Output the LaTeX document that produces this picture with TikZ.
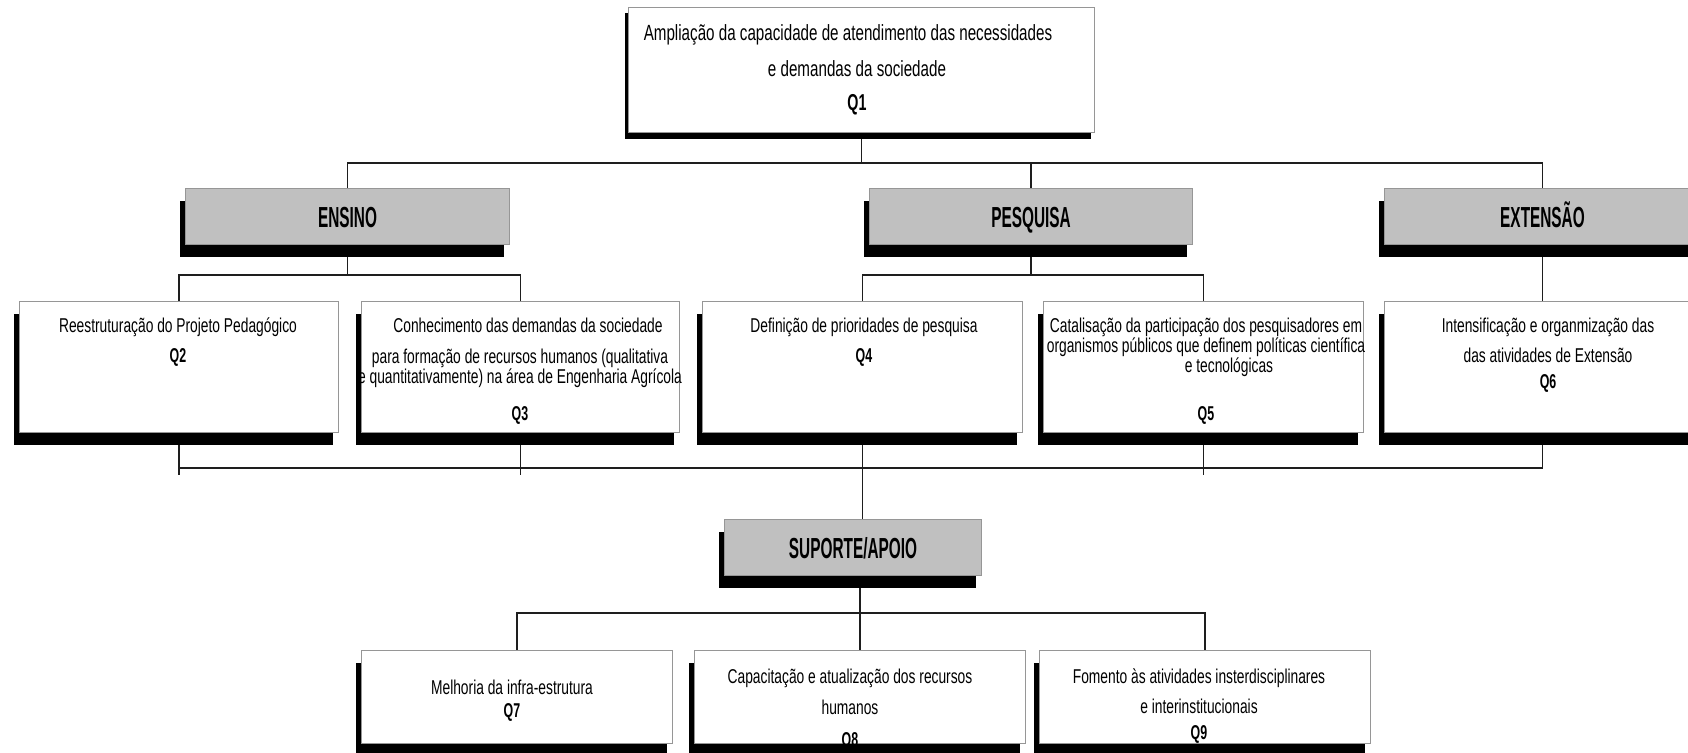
\documentclass[tikz,border=0pt]{standalone}
\usepackage{fontspec}
\setmainfont{Liberation Sans}
\newfontfamily\planfont[FakeStretch=0.69]{Liberation Sans}
\newfontfamily\planTagFont[FakeStretch=0.62]{Liberation Sans}
\newfontfamily\planHeadFont[FakeStretch=0.53]{Liberation Sans}
\usetikzlibrary{shadows,backgrounds}

\definecolor{planBorder}{RGB}{150,150,150}
\definecolor{planHead}{RGB}{192,192,192}
\definecolor{planLink}{RGB}{30,30,30}

\newcommand{\qtag}[1]{{\planTagFont\bfseries\fontsize{20}{20}\selectfont #1}}
\newcommand{\planTight}{\lineskiplimit=-30pt\relax}

\begin{document}
\begin{tikzpicture}[x=1pt,y=-1pt,
      card/.style={draw=planBorder, fill=white, line width=1pt,
        inner sep=0pt, anchor=north west},
      deep/.style={drop shadow={shadow xshift=-6pt, shadow yshift=-12pt,
        fill=black, opacity=1}},
      shallow/.style={drop shadow={shadow xshift=-4pt, shadow yshift=-6pt,
        fill=black, opacity=1}},
      pillar/.style={card, deep, fill=planHead, minimum height=56pt,
        font={\planHeadFont\bfseries\fontsize{29}{33}\selectfont},
        text height=21pt, text depth=0pt},
      goal/.style={card, deep, minimum height=131pt},
      goalLow/.style={card, deep, minimum height=93pt},
      say/.style={font={\planfont\fontsize{20}{20}\selectfont\planTight},
        align=center, inner sep=0pt, anchor=base},
      link/.style={draw=planLink, line width=1.2pt}]
      \useasboundingbox (0,0) rectangle (1688,752);

      \node[card, shallow, minimum width=466pt, minimum height=125pt] (q1) at (628,7) {};
      \node[say, font={\planfont\fontsize{22}{20}\selectfont\planTight}]
        (q1txt) at (857,110)
        {Ampliação da capacidade de atendimento das necessidades\hspace*{18pt}\\[16pt]
         e demandas da sociedade\\[14pt]
         {\planTagFont\bfseries\fontsize{23}{20}\selectfont Q1}};

      \node[pillar, minimum width=324pt] (ensino) at (185,188) {ENSINO};
      \node[pillar, minimum width=323pt] (pesquisa) at (869,188) {PESQUISA};
      \node[pillar, minimum width=316pt] (extensao) at (1384,188) {EXTENSÃO};

      \node[goal, minimum width=319pt] (q2) at (19,301) {};
      \node[goal, minimum width=318pt] (q3) at (361,301) {};
      \node[goal, minimum width=320pt] (q4) at (702,301) {};
      \node[goal, minimum width=320pt] (q5) at (1043,301) {};
      \node[goal, minimum width=316pt] (q6) at (1384,301) {};

      \node[say] (q2txt) at (178,362)
        {Reestruturação do Projeto Pedagógico\\[10pt]\qtag{Q2}};
      \node[say] (q3txt) at (520,420)
        {\hspace*{16pt}Conhecimento das demandas da sociedade\\[11pt]
         para formação de recursos humanos (qualitativa\\
         e quantitativamente) na área de Engenharia Agrícola\\[17pt]\qtag{Q3}};
      \node[say] (q4txt) at (864,362)
        {Definição de prioridades de pesquisa\\[10pt]\qtag{Q4}};
      \node[say] (q5txt) at (1206,420)
        {Catalisação da participação dos pesquisadores em\\
         organismos públicos que definem políticas científica\\
         \hspace*{46pt}e tecnológicas\\[28pt]\qtag{Q5}};
      \node[say] (q6txt) at (1548,388)
        {Intensificação e organmização das\\[10pt]
         das atividades de Extensão\\[6pt]\qtag{Q6}};

      \node[pillar, minimum width=257pt] (suporte) at (724,519) {SUPORTE/APOIO};

      \node[goalLow, minimum width=311pt] (q7) at (361,650) {};
      \node[goalLow, minimum width=331pt] (q8) at (694,650) {};
      \node[goalLow, minimum width=331pt] (q9) at (1039,650) {};

      \node[say] (q7txt) at (512,717)
        {Melhoria da infra-estrutura\\[3pt]\qtag{Q7}};
      \node[say] (q8txt) at (850,746)
        {Capacitação e atualização dos recursos\\[11pt]
         humanos\\[12pt]\qtag{Q8}};
      \node[say] (q9txt) at (1199,739)
        {Fomento às atividades insterdisciplinares\\[10pt]
         e interinstitucionais\\[6pt]\qtag{Q9}};

      \begin{scope}[on background layer]
        \fill[white] (0,0) rectangle (1688,752);
        \coordinate (topbus) at (0,163);
        \coordinate (subbus) at (0,275);
        \coordinate (midbus) at (0,468);
        \coordinate (midend) at (0,475);
        \coordinate (lowbus) at (0,613);

        \draw[link] (q1.south) -- (q1.south |- topbus);
        \draw[link] (ensino.north) |- (topbus -| extensao.north) -- (extensao.north);
        \draw[link] (pesquisa.north) -- (pesquisa.north |- topbus);

        \draw[link] (ensino.south) -- (ensino.south |- subbus);
        \draw[link] (q2.north) |- (subbus -| q3.north) -- (q3.north);
        \draw[link] (pesquisa.south) -- (pesquisa.south |- subbus);
        \draw[link] (q4.north) |- (subbus -| q5.north) -- (q5.north);
        \draw[link] (extensao.south) -- (q6.north);

        \draw[link] (q2.south) -- (q2.south |- midend);
        \draw[link] (q3.south) -- (q3.south |- midend);
        \draw[link] (q5.south) -- (q5.south |- midend);
        \draw[link] (q2.south |- midbus) -| (q6.south);
        \draw[link] (q4.south) -- (q4.south |- suporte.north);

        \draw[link] (q8.north) -- (q8.north |- suporte.south);
        \draw[link] (q7.north) |- (lowbus -| q9.north) -- (q9.north);
      \end{scope}
    \end{tikzpicture}
\end{document}
